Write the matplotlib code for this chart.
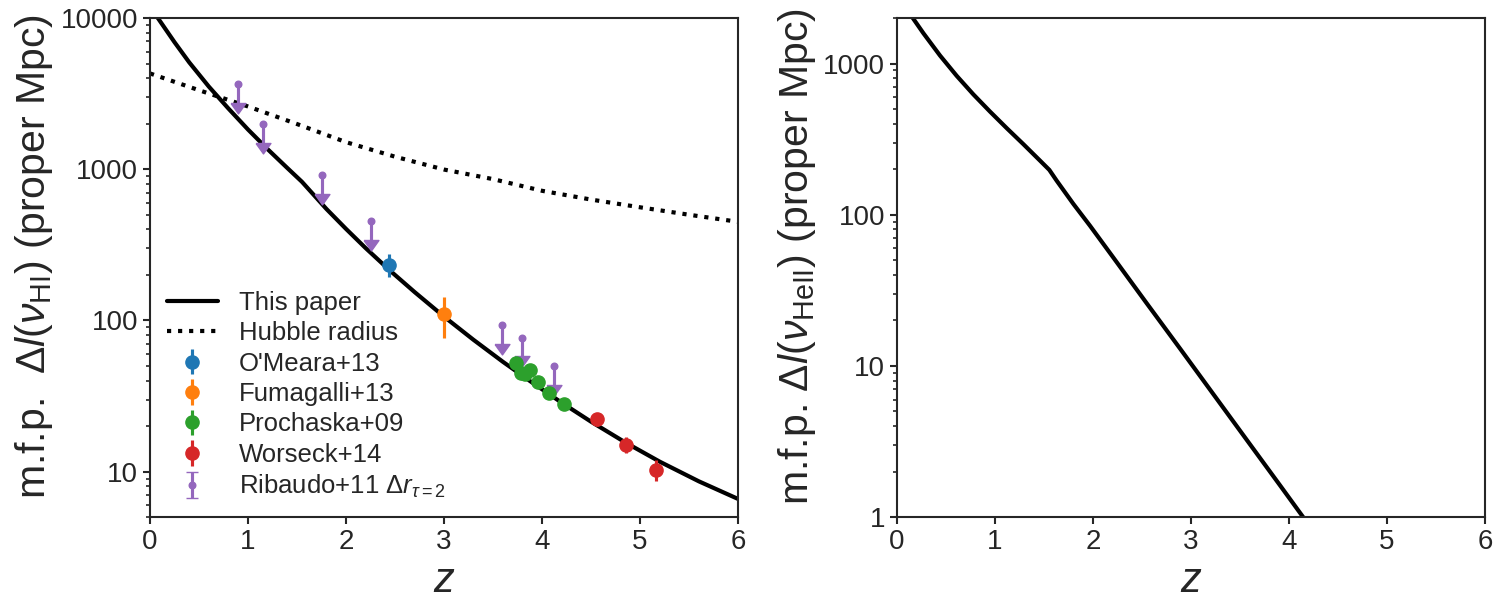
import matplotlib
matplotlib.use("Agg")
import matplotlib.pyplot as plt
import seaborn as sns
from matplotlib.ticker import ScalarFormatter, NullFormatter

# ----------------------------------------------------
# data
# ----------------------------------------------------
# this paper, HI mean free path (proper Mpc)
z_hi = [0.0, 0.08, 0.25, 0.4, 0.6, 0.8, 1.0, 1.2, 1.4, 1.55, 1.8, 2.0, 2.2, 2.44,
        2.7, 3.0, 3.3, 3.6, 3.9, 4.2, 4.5, 4.85, 5.2, 5.6, 6.0]
mfp_hi = [12000, 10000, 6920, 5090, 3520, 2520, 1830, 1357, 1020, 826, 546, 403,
          301, 216, 154, 106, 74.5, 53.3, 38.8, 28.6, 21.4, 15.6, 11.65, 8.63, 6.6]

# Hubble radius
z_hub = [0.0, 0.5, 1.0, 1.5, 2.0, 2.5, 3.0, 3.5, 4.0, 4.5, 5.0, 5.5, 6.0]
r_hub = [4300, 3330, 2600, 1990, 1510, 1210, 995, 860, 720, 630, 560, 500, 449]

# this paper, HeII mean free path
z_he = [0.1, 0.167, 0.27, 0.44, 0.61, 0.78, 0.95, 1.12, 1.29, 1.46, 1.555, 1.63,
        1.8, 1.97, 2.21, 2.55, 2.89, 3.23, 3.57, 3.91, 4.15, 4.25]
mfp_he = [2290, 1979, 1587, 1129, 829, 625, 481, 374, 293, 228, 198, 168,
          118, 84.6, 51.9, 25.9, 13.0, 6.49, 3.24, 1.62, 0.99, 0.81]

# measurements
z_omeara = [2.44]
y_omeara = [233]
e_omeara = [40]

z_fuma = [3.0]
y_fuma = [110]
e_fuma = [33]

z_proch = [3.73, 3.78, 3.83, 3.88, 3.96, 4.07, 4.22]
y_proch = [52.4, 45.0, 44.3, 46.7, 39.0, 33.1, 28.0]
e_proch = [2.5, 2.0, 2.0, 2.0, 1.8, 1.5, 1.3]

z_wors = [4.56, 4.86, 5.16]
y_wors = [22.2, 15.1, 10.3]
e_wors = [2.3, 1.8, 1.6]

z_rib = [0.895, 1.156, 1.752, 2.255, 3.59, 3.80, 4.126]
y_rib = [3650, 2000, 920, 457, 94, 77, 50]
e_rib = [910, 500, 230, 114, 24, 19, 12.5]

# ----------------------------------------------------
# style
# ----------------------------------------------------
sns.set_theme(style="ticks", context="talk", palette="tab10")
plt.rcParams["font.family"] = ["Liberation Sans", "DejaVu Sans"]
plt.rcParams["mathtext.fontset"] = "custom"
plt.rcParams["mathtext.rm"] = "Liberation Sans"
plt.rcParams["mathtext.it"] = "Liberation Sans:italic"
plt.rcParams["mathtext.bf"] = "Liberation Sans:bold"

TICK_FS = 20
LABEL_FS = 29.5
MS = 9.5

# filled down arrow head, base at the limit value
arrow_head = [(-1, 0), (0, -1.4), (1, 0), (-1, 0)]

fig, (ax1, ax2) = plt.subplots(1, 2, figsize=(15, 6), dpi=100)
fig.subplots_adjust(left=0.1, right=0.99, top=0.97, bottom=0.138, wspace=0.27)

# ----------------------------------------------------
# left panel: HI
# ----------------------------------------------------
ax1.plot(z_hi, mfp_hi, color="k", lw=3, label="This paper")
ax1.plot(z_hub, r_hub, color="k", lw=3, ls=":", label="Hubble radius")

ax1.errorbar(z_omeara, y_omeara, yerr=e_omeara, fmt="o", color="C0", ms=MS, lw=2.25, label="O'Meara+13")
ax1.errorbar(z_fuma, y_fuma, yerr=e_fuma, fmt="o", color="C1", ms=MS, lw=2.25, label="Fumagalli+13")
ax1.errorbar(z_proch, y_proch, yerr=e_proch, fmt="o", color="C2", ms=MS, lw=2.25, label="Prochaska+09")
ax1.errorbar(z_wors, y_wors, yerr=e_wors, fmt="o", color="C3", ms=MS, lw=2.25, label="Worseck+14")
rib = ax1.errorbar(z_rib, y_rib, yerr=e_rib, uplims=True, fmt=".", color="C4", ms=MS, lw=2.25,
                   capsize=0, label=r"Ribaudo+11 $\mathit{\Delta} r_{\tau=2}$")

ax1.set_yscale("log")
ax1.set_xlim(0, 6)
ax1.set_ylim(5, 10000)
ax1.set_xlabel("$z$", fontsize=30)
ax1.set_ylabel(r"m.f.p.  $\mathit{\Delta} l(\nu_{\rm HI})$ (proper Mpc)", fontsize=LABEL_FS)
ax1.legend(loc="lower left", frameon=False, fontsize=18.5, handlelength=2.0,
           labelspacing=0.25, borderaxespad=0.25)

# bigger, filled arrow heads (after the legend so its caps stay small)
for cl in rib[1]:
    cl.set_marker(arrow_head)
    cl.set_markersize(15)
    cl.set_markerfacecolor("C4")
    cl.set_markeredgecolor("C4")
    cl.set_markeredgewidth(1)

# ----------------------------------------------------
# right panel: HeII
# ----------------------------------------------------
ax2.plot(z_he, mfp_he, color="k", lw=3)
ax2.set_yscale("log")
ax2.set_xlim(0, 6)
ax2.set_ylim(1, 2000)
ax2.set_xlabel("$z$", fontsize=30)
ax2.set_ylabel(r"m.f.p. $\mathit{\Delta} l(\nu_{\rm HeII})$ (proper Mpc)", fontsize=LABEL_FS)

for ax in (ax1, ax2):
    ax.yaxis.set_major_formatter(ScalarFormatter())
    ax.yaxis.set_minor_formatter(NullFormatter())
    ax.tick_params(labelsize=TICK_FS, which="major", length=5, width=1.5)
    ax.tick_params(which="minor", length=3, width=1.2)
    ax.yaxis.label.set_y(0.522)
    for sp in ax.spines.values():
        sp.set_linewidth(1.5)

plt.savefig("out.png")
